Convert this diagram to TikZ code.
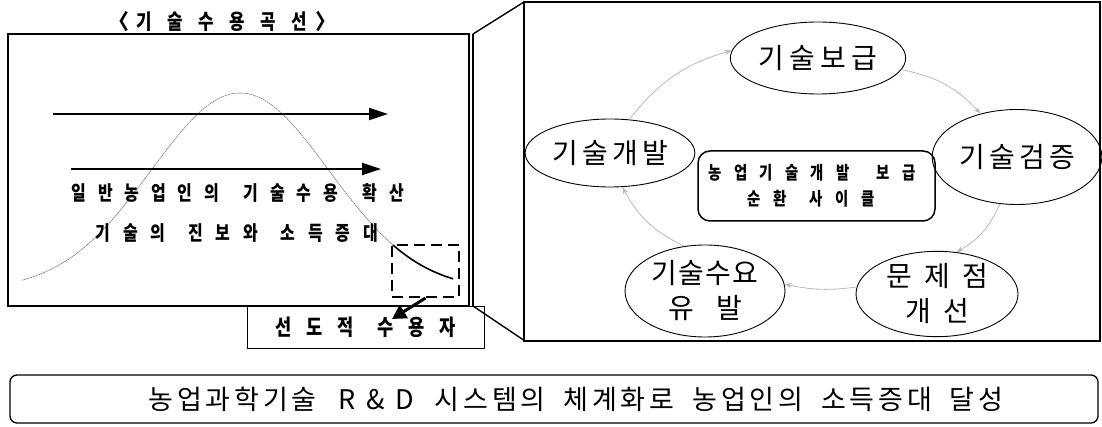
\documentclass[tikz,border=0pt]{standalone}
\usepackage{fontspec}
\newfontfamily\kr{Noto Sans CJK KR}
\usetikzlibrary{shapes.geometric,arrows.meta}
% \spc[word gap]{pitch}{text}: one box of fixed width per character
\makeatletter
\newcommand\spcx{1}
\newcommand\spc[3][0pt]{\def\spc@g{#1}\def\spc@d{#2}\spc@i#3\@nil}
\def\spc@i#1{\ifx#1\@nil\else\spc@one{#1}\expandafter\spc@i\fi}
\def\spc@one#1{\ifx#1\ \hspace*{\spc@g}\else\makebox[\spc@d]{\scalebox{\spcx}[1]{#1}}\fi}
\makeatother
\begin{document}
\begin{tikzpicture}[x=1pt,y=-1pt,
  frame/.style={draw, line width=1.4pt},
  ell/.style={ellipse, draw, line width=0.9pt, inner sep=0pt, align=center,
              font=\kr\fontsize{28}{35}\selectfont},
  bt/.style={font=\kr\bfseries\fontsize{20}{22}\selectfont\def\spcx{0.8}, inner sep=0pt},
  cyc/.style={draw=gray!55, line width=0.8pt, -{Stealth[length=7pt,width=5pt]}},
  bigarr/.style={line width=1.8pt, -{Triangle[length=19pt,width=12pt]}},
]
\useasboundingbox (0,0) rectangle (1102,427);
\fill[white] (0,0) rectangle (1102,427);

% ---------- left panel ----------
\node[font=\kr\bfseries\fontsize{21}{24}\selectfont\def\spcx{0.8}, inner sep=0pt] (title) at (222,22)
  {〈\spc{31pt}{기술수용곡선}〉};
\draw[frame] (8,34) rectangle (469,306);
% 3D side panel
\draw[frame] (473,34) -- (524,2);
\draw[frame] (473,306) -- (525,341);
\draw[frame] (473,34) -- (473,306);

% bell curve
\draw[black!55, line width=0.6pt, dash pattern=on 1.6pt off 0.6pt]
  plot[domain=22:393, samples=90, smooth] (\x, {290-197*exp(-((\x-240)/89)^2/2)});
\draw[line width=1.6pt]
  plot[domain=393:453, samples=12, smooth] (\x, {290-197*exp(-((\x-240)/89)^2/2)});

\coordinate (h1s) at (53,114);
\coordinate (h1e) at (388,114);
\coordinate (h2s) at (71,169);
\coordinate (h2e) at (381,169);
\draw[bigarr] (h1s) -- (h1e);
\draw[bigarr] (h2s) -- (h2e);

\node[bt] (diff) at (238,193) {\spc[13pt]{26.5pt}{일반농업인의\ 기술수용\ 확산}};
\node[bt] (prog) at (237,233) {\spc[10pt]{27.5pt}{기술의\ 진보와\ 소득증대}};

\node[draw, line width=2pt, dash pattern=on 11pt off 6pt, minimum width=67, minimum height=52,
      inner sep=0pt] (dbox) at (425.5,271) {};
\node[draw, line width=0.8pt, minimum width=237, minimum height=42, inner sep=0pt,
      font=\kr\bfseries\fontsize{22}{24}\selectfont\def\spcx{0.8}] (lead) at (365.5,327)
  {\spc[9pt]{31pt}{선도적\ 수용자}};
\coordinate (leadtip) at (392,319);
\draw[line width=3pt, -{Triangle[length=14pt,width=15pt]}] (dbox.south) -- (leadtip);

% ---------- right panel ----------
\draw[frame] (524,2) rectangle (1100,341);

\node[ell, minimum width=160, minimum height=72] (bogeup) at (818,58) {\spc{31pt}{기술보급}};
\node[ell, minimum width=160, minimum height=95] (geom) at (1017,157) {\spc{30pt}{기술검증}};
\node[ell, minimum width=160, minimum height=68] (gaebal) at (610,153) {\spc{30pt}{기술개발}};
\node[ell, minimum width=160, minimum height=92] (suyo) at (705,291)
  {\spc{27pt}{기술수요}\\\spc{48pt}{유발}};
\node[ell, minimum width=162, minimum height=85] (munje) at (937,294)
  {\spc{38pt}{문제점}\\\spc{38pt}{개선}};

\node[draw, line width=1.5pt, rounded corners=12pt, minimum width=237, minimum height=70,
      inner sep=0pt] (cbox) at (816.5,186) {};
\node[font=\kr\bfseries\fontsize{18}{20}\selectfont\def\spcx{0.8}, inner sep=0pt] (c1) at (812,173)
  {\spc[15pt]{25.5pt}{농업기술개발\ 보급}};
\node[font=\kr\bfseries\fontsize{18}{20}\selectfont\def\spcx{0.8}, inner sep=0pt] (c2) at (811,199)
  {\spc[10pt]{26pt}{순환\ 사이클}};

\draw[cyc] (bogeup.-8) to[bend left=18] (geom.130);
\draw[cyc] (geom.-110) to[bend left=18] (munje.65);
\draw[cyc] (munje.175) to[bend left=10] (suyo.5);
\draw[cyc] (suyo.115) to[bend left=18] (gaebal.-70);
\draw[cyc] (gaebal.60) to[bend left=18] (bogeup.175);

% ---------- bottom ----------
\node[draw, line width=1.3pt, rounded corners=7pt, minimum width=1088, minimum height=48,
      inner sep=0pt] (goalbox) at (554,399) {};
\node[font=\kr\fontsize{27}{30}\selectfont, inner sep=0pt] (goal) at (576,399)
  {\spc[14pt]{28.7pt}{농업과학기술\ R\&D\ 시스템의\ 체계화로\ 농업인의\ 소득증대\ 달성}};
\end{tikzpicture}
\end{document}
